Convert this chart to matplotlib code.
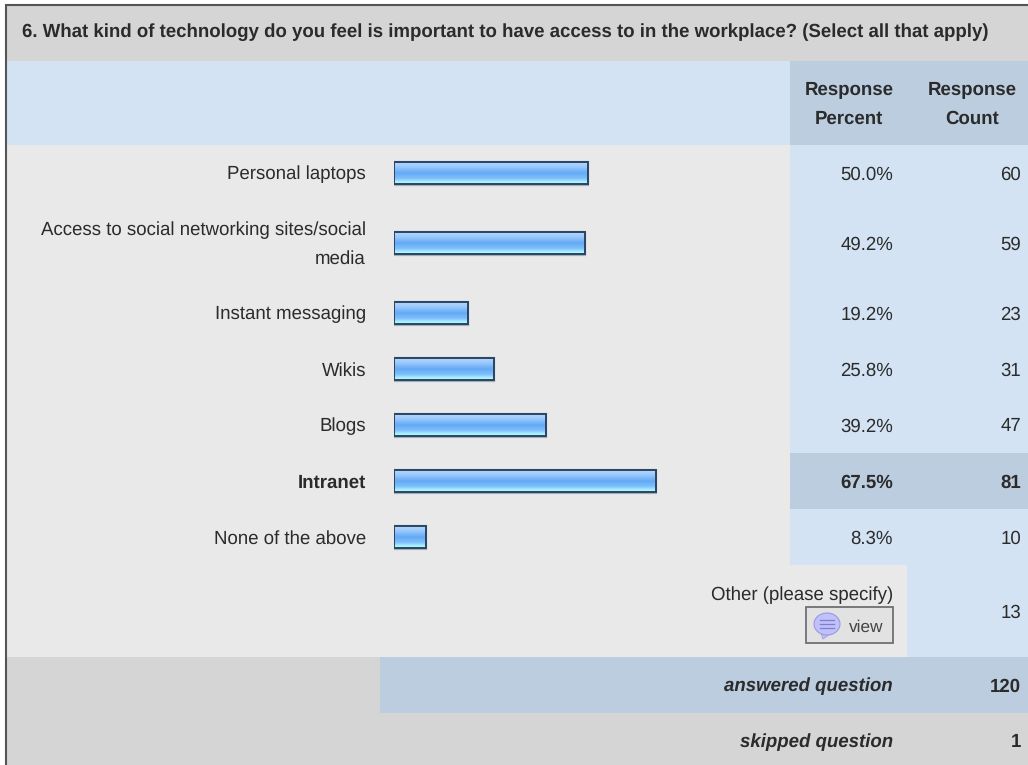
import numpy as np
import matplotlib
matplotlib.use('Agg')
import matplotlib.pyplot as plt
from matplotlib.colors import LinearSegmentedColormap
from matplotlib.patches import Rectangle, Ellipse, Polygon

plt.rcParams['font.family'] = ['Liberation Sans', 'DejaVu Sans']
plt.rcParams['text.hinting'] = 'no_hinting'

title = "6. What kind of technology do you feel is important to have access to in the workplace? (Select all that apply)"
labels = ["Personal laptops", "Access to social networking sites/social\nmedia", "Instant messaging",
          "Wikis", "Blogs", "Intranet", "None of the above"]
percents = [50.0, 49.2, 19.2, 25.8, 39.2, 67.5, 8.3]
counts = [60, 59, 23, 31, 47, 81, 10]
other_count = 13
answered = 120
skipped = 1

W, H = 1028, 765
BLUE = '#d3e3f3'
DARK_BLUE = '#bccde0'
GREY = '#d5d5d5'
LIGHT = '#e9e9e9'
TXT = '#2b2b2b'
FS = 13.4
DY = 1.5  # text sits a bit lower than the cell centre

# row tops and bottoms in picture pixels
row_top = [145, 201, 285, 341, 397, 453, 509]
row_bot = [201, 285, 341, 397, 453, 509, 565]
top_row = percents.index(max(percents))

fig = plt.figure(figsize=(W / 100, H / 100), dpi=100, facecolor='white')
bg = fig.add_axes([0, 0, 1, 1])
bg.set_xlim(0, W)
bg.set_ylim(H, 0)
bg.axis('off')


def cell(x0, y0, x1, y1, color):
    bg.add_patch(Rectangle((x0, y0), x1 - x0, y1 - y0, fc=color, ec='none', zorder=1))


# table background
cell(6, 6, W, 61, GREY)
cell(6, 61, 790, 145, BLUE)
cell(790, 61, W, 145, DARK_BLUE)
cell(6, 145, 790, 565, LIGHT)
cell(790, 145, W, 565, BLUE)
cell(790, row_top[top_row], W, row_bot[top_row], DARK_BLUE)
cell(6, 565, 907, 657, LIGHT)
cell(907, 565, W, 657, BLUE)
cell(6, 657, 380, 713, GREY)
cell(380, 657, W, 713, DARK_BLUE)
cell(6, 713, W, H, GREY)

# outer border
bg.plot([5.5, 5.5, W], [H, 5, 5], color='#555555', lw=1.5, zorder=2, solid_joinstyle='miter')

bg.text(22, 31 + DY, title, fontsize=FS, fontweight='bold', color=TXT, ha='left', va='center')
bg.text(849, 103 + DY, "Response\nPercent", fontsize=FS, fontweight='bold', color=TXT, ha='center', va='center',
        linespacing=1.75)
bg.text(972, 103 + DY, "Response\nCount", fontsize=FS, fontweight='bold', color=TXT, ha='center', va='center',
        linespacing=1.75)

for i, lab in enumerate(labels):
    yc = (row_top[i] + row_bot[i]) / 2 + DY
    w = 'bold' if i == top_row else 'normal'
    bg.text(366, yc, lab, fontsize=FS, fontweight=w, color=TXT, ha='right', va='center', linespacing=1.75)
    bg.text(893, yc, "%.1f%%" % percents[i], fontsize=FS, fontweight=w, color=TXT, ha='right', va='center')
    bg.text(1021, yc, str(counts[i]), fontsize=FS, fontweight=w, color=TXT, ha='right', va='center')

bg.text(893, 594 + DY, "Other (please specify)", fontsize=FS, color=TXT, ha='right', va='center')
bg.text(1021, 611 + DY, str(other_count), fontsize=FS, color=TXT, ha='right', va='center')

# view button
bg.add_patch(Rectangle((806, 607), 87, 36, fc='#e2e2e2', ec='#707070', lw=1.3, zorder=3))
bg.add_patch(Polygon([[820, 630], [823, 639], [833, 632]], fc='#c0c0fa', ec='#9a9ae0', lw=0.6, zorder=4))
bg.add_patch(Ellipse((827, 624), 26, 22, fc='#c0c0fa', ec='#9a9ae0', lw=0.8, zorder=4))
for yl in (620, 624, 628):
    bg.plot([820, 834], [yl, yl], color='#7f7fc8', lw=0.9, zorder=5)
bg.text(866, 627, "view", fontsize=12.4, color='#444444', ha='center', va='center', zorder=5)

bg.text(893, 685 + DY, "answered question", fontsize=FS, fontweight='bold', style='italic', color=TXT, ha='right', va='center')
bg.text(1021, 685 + DY, str(answered), fontsize=FS, fontweight='bold', color=TXT, ha='right', va='center')
bg.text(893, 741 + DY, "skipped question", fontsize=FS, fontweight='bold', style='italic', color=TXT, ha='right', va='center')
bg.text(1021, 741 + DY, str(skipped), fontsize=FS, fontweight='bold', color=TXT, ha='right', va='center')

# bars: 100% is 388 px wide, axes spans the body rows
ax = fig.add_axes([394 / W, 1 - 565 / H, 388 / W, 420 / H])
ax.patch.set_alpha(0)
ax.axis('off')

cmap = LinearSegmentedColormap.from_list('bar', [(0, '#b4d8fe'), (0.2, '#9ccafc'), (0.5, '#62a9f6'),
                                                 (0.75, '#82bffa'), (0.9, '#a5f0ff'), (1, '#c0fdff')])
grad = np.linspace(0, 1, 64).reshape(-1, 1)
yc = [(a + b) / 2 for a, b in zip(row_top, row_bot)]
ax.barh(yc, percents, height=23, fc='none', ec='#a4adb8', lw=1.6, zorder=1)
for y, v in zip(yc, percents):
    ax.imshow(grad, cmap=cmap, aspect='auto', extent=[0, v, y + 11, y - 11], zorder=2)
ax.barh(yc, percents, height=22, fc='none', ec='#2a4462', lw=1.4, zorder=3)
ax.set_xlim(0, 100)
ax.set_ylim(565, 145)

fig.savefig('out.png', dpi=100)
